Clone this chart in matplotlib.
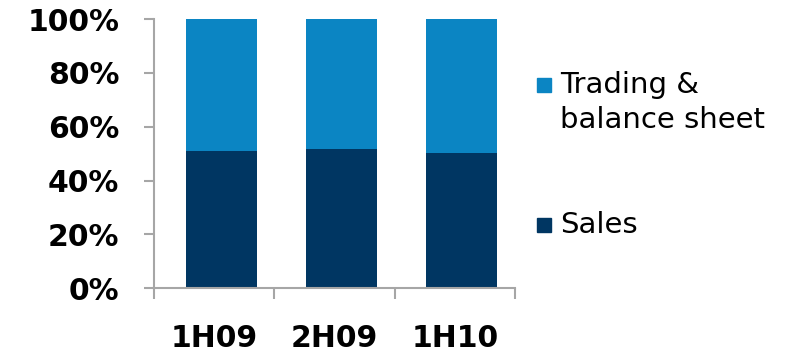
import matplotlib.pyplot as plt
from matplotlib.patches import Rectangle
import numpy as np

# data
periods = ['1H09', '2H09', '1H10']
sales = [51.0, 51.6, 50.4]
trading = [100 - s for s in sales]

dark = '#003662'
light = '#0B85C3'
grey = '#A6A6A6'

fig = plt.figure(figsize=(8.02, 3.54), dpi=100)
ax = fig.add_axes([0.192, 0.186, 0.45, 0.76])

x = np.arange(len(periods))
# bars sit slightly right of the category centre in the original
ax.bar(x + 0.06, sales, width=0.59, color=dark)
ax.bar(x + 0.06, trading, width=0.59, bottom=sales, color=light)

ax.set_xlim(-0.5, 2.5)
ax.set_ylim(0, 100)
ax.set_yticks(range(0, 101, 20))
ax.set_yticklabels([f'{v}%' for v in range(0, 101, 20)],
                   fontsize=21.5, fontweight='bold')
ax.set_xticks(x)
ax.set_xticklabels(periods, fontsize=21.5, fontweight='bold')
ax.set_xticks(np.arange(-0.5, 3, 1), minor=True)

ax.tick_params(axis='x', which='major', length=0, pad=26)
ax.tick_params(axis='x', which='minor', length=8, width=1.5, color=grey)
ax.tick_params(axis='y', length=7, width=1.5, color=grey, pad=18)

for s in ['top', 'right']:
    ax.spines[s].set_visible(False)
for s in ['left', 'bottom']:
    ax.spines[s].set_color(grey)
    ax.spines[s].set_linewidth(1.5)

# legend drawn by hand: swatch lines up with the first text line
W, H = 802, 354
entries = [(light, 'Trading &\nbalance sheet', 85), (dark, 'Sales', 225)]
for col, lab, yc in entries:
    fig.patches.append(Rectangle((537 / W, 1 - (yc + 7) / H), 14 / W, 14 / H,
                                 transform=fig.transFigure, color=col))
    fig.text(560 / W, 1 - (yc - 14) / H, lab, fontsize=21, va='top',
             ha='left', linespacing=1.3)

plt.savefig('out.png', dpi=100)
